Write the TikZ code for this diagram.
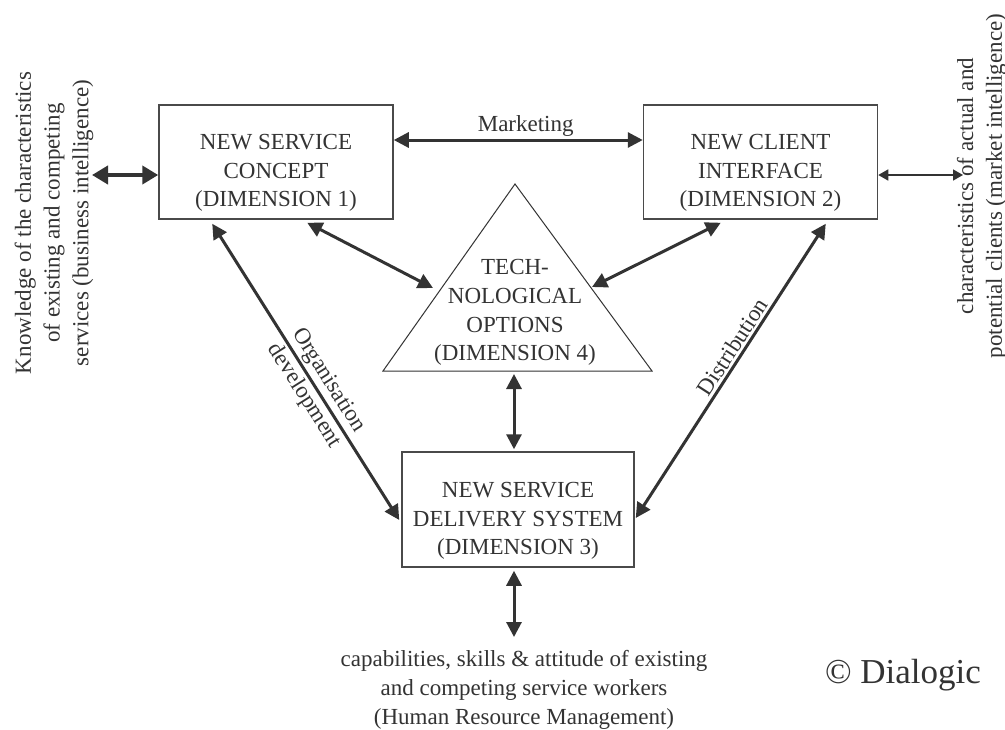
\documentclass[tikz,border=0pt]{standalone}
\usepackage{fontspec}
\setmainfont{Liberation Serif}
\usetikzlibrary{arrows.meta}
\definecolor{ink}{HTML}{333333}
\definecolor{frame}{HTML}{4A4A4A}
\begin{document}
\begin{tikzpicture}[x=1pt,y=-1pt,
  every node/.style={text=ink, font=\fontsize{23}{28.75}\selectfont, inner sep=0pt},
  dimbox/.style={draw=frame, line width=1.5pt, minimum width=234pt, minimum height=114pt},
  dimtext/.style={align=center},
  tip/.style={Triangle[length=15pt,width=15pt]},
  link/.style={draw=ink, line width=3pt, {Triangle[length=15pt,width=15pt]}-{Triangle[length=15pt,width=15pt]}},
  heavylink/.style={draw=ink, line width=4.5pt, {Triangle[length=16pt,width=18pt]}-{Triangle[length=16pt,width=18pt]}},
  thinlink/.style={draw=ink, line width=1.6pt, {Triangle[length=10pt,width=11pt]}-{Triangle[length=10pt,width=11pt]}},
  sidetext/.style={align=center, rotate=90},
  tri/.style={draw=ink, line width=1pt}
]
% canvas
\fill[white] (0,0) rectangle (1005,729);
\useasboundingbox (0,0) rectangle (1005,729);

% the four dimensions
\node[dimbox] (b1) at (276,162) {};
\node[dimtext] (b1t) at (276,173) {NEW SERVICE\\CONCEPT\\(DIMENSION 1)};
\node[dimbox] (b2) at (760.5,162) {};
\node[dimtext] (b2t) at (760.5,173) {NEW CLIENT\\INTERFACE\\(DIMENSION 2)};
\node[dimbox, minimum width=232pt, minimum height=115pt] (b3) at (518,509.5) {};
\node[dimtext] (b3t) at (518,521) {NEW SERVICE\\DELIVERY SYSTEM\\(DIMENSION 3)};

\coordinate (tA) at (515,184);
\coordinate (tL) at (383,371);
\coordinate (tR) at (652,371);
\draw[tri] (tA) -- (tL) -- (tR) -- cycle;
\node[dimtext] (tt) at (515,312.6) {TECH-\\NOLOGICAL\\OPTIONS\\(DIMENSION 4)};

% docking points on the triangle and free ends
\coordinate (t1) at (433,288);
\coordinate (t2) at (592,287);
\coordinate (t3) at (514,374);
\coordinate (kl) at (92,175);
\coordinate (kr) at (963,175);
\coordinate (kb) at (514,637);

% outside knowledge
\node[sidetext] (lefttxt) at (54,223) {Knowledge of the characteristics\\of existing and competing\\services (business intelligence)};
\node[sidetext] (righttxt) at (982,186) {characteristics of actual and\\potential clients (market intelligence)};
\node[align=center] (bottomtxt) at (524,690) {capabilities, skills \& attitude of existing\\and competing service workers\\(Human Resource Management)};
\node[font=\fontsize{35}{40}\selectfont] (copy) at (903,675) {© Dialogic};

% connectors
\draw[heavylink] (kl) -- (b1.west |- kl);
\draw[thinlink] (b2.east |- kr) -- (kr);
\draw[link] ([yshift=22pt]b1.east) -- node[above=2pt, pos=0.53] (mk) {Marketing} ([yshift=22pt]b2.west);
\draw[link] ([xshift=149pt,yshift=-3pt]b1.south west) -- (t1);
\draw[link] ([xshift=78pt,yshift=-3pt]b2.south west) -- (t2);
\draw[link] (t3) -- ([xshift=-4pt,yshift=2pt]b3.north);
\draw[link] ([xshift=-4pt,yshift=-3pt]b3.south) -- (kb);
\draw[link] ([xshift=54pt,yshift=-4pt]b1.south west) -- node[sloped, align=center, pos=0.555] (org) {Organisation\\development} ([xshift=-2pt,yshift=-10.5pt]b3.west);
\draw[link] ([xshift=1pt,yshift=-8.5pt]b3.east) -- node[sloped, above=2pt, pos=0.56] (dist) {Distribution} ([xshift=183pt,yshift=-4pt]b2.south west);
\end{tikzpicture}
\end{document}
